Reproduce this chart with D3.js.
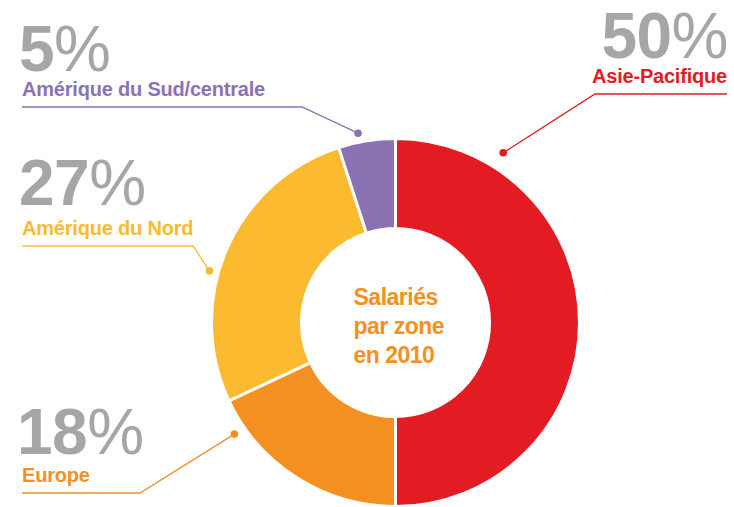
<!DOCTYPE html>
<html>
<head>
<meta charset="utf-8">
<script src="https://cdn.jsdelivr.net/npm/d3@7"></script>
<style>
  body { margin: 0; background: #fff; }
  text { font-family: "Liberation Sans", Arial, Helvetica, sans-serif; }
</style>
</head>
<body>
<svg id="chart" width="734" height="507"></svg>
<script>
// Data
const zones = ['Asie-Pacifique', 'Europe', 'Amérique du Nord', 'Amérique du Sud/centrale'];
const shares = [50, 18, 27, 5];
const zoneColors = ['#e31b23', '#f39021', '#fbba30', '#8b72b3'];
const centerLines = ['Salariés', 'par zone', 'en 2010'];

// Layout of the callouts (not data): label anchor, underline ends, dot angle/radius
const callouts = [
  { x: 728, y: 58, anchor: 'end', lineFrom: 727, lineTo: 595, lineY: 94, dotAngle: 32.4, dotR: 201 },
  { x: 17, y: 454, anchor: 'start', lineFrom: 22, lineTo: 140, lineY: 493, dotAngle: 235.3, dotR: 196 },
  { x: 19, y: 205, anchor: 'start', lineFrom: 22, lineTo: 193, lineY: 246, dotAngle: 285.5, dotR: 193 },
  { x: 19, y: 71, anchor: 'start', lineFrom: 22, lineTo: 302, lineY: 107, dotAngle: 348.8, dotR: 193 }
];

const cx = 395.5, cy = 322.5;
const outerR = 184, innerR = 94;
const grey = '#a6a6a9';

const svg = d3.select('#chart');
const g = svg.append('g').attr('transform', `translate(${cx},${cy})`);

const pie = d3.pie().sort(null).value(d => d);
const arc = d3.arc().innerRadius(innerR).outerRadius(outerR);

g.selectAll('.slice')
  .data(pie(shares))
  .enter()
  .append('path')
    .attr('class', 'slice')
    .attr('d', arc)
    .attr('fill', (d, i) => zoneColors[i])
    .attr('stroke', '#fff')
    .attr('stroke-width', 3);

// centre title
g.append('text')
  .attr('fill', '#f39021')
  .attr('font-size', 23)
  .attr('font-weight', 'bold')
  .attr('letter-spacing', -0.5)
  .selectAll('tspan')
  .data(centerLines)
  .enter()
  .append('tspan')
    .attr('x', -42)
    .attr('y', (d, i) => -18 + i * 29)
    .text(d => d);

// callouts
zones.forEach((zone, i) => {
  const c = callouts[i];
  const col = zoneColors[i];
  const dot = d3.pointRadial(c.dotAngle * Math.PI / 180, c.dotR);
  const dx = cx + dot[0], dy = cy + dot[1];

  const big = svg.append('text')
    .attr('x', c.x)
    .attr('y', c.y)
    .attr('text-anchor', c.anchor)
    .attr('fill', grey)
    .attr('font-size', 64)
    .attr('letter-spacing', -0.5);
  big.append('tspan').attr('font-weight', 'bold').text(shares[i]);
  big.append('tspan').attr('font-weight', 'normal').text('%');

  svg.append('text')
    .attr('x', c.lineFrom)
    .attr('y', c.lineY - 11)
    .attr('text-anchor', c.anchor)
    .attr('fill', col)
    .attr('font-size', 20)
    .attr('font-weight', 'bold')
    .attr('letter-spacing', -0.2)
    .text(zone);

  svg.append('polyline')
    .attr('points', [[c.lineFrom, c.lineY], [c.lineTo, c.lineY], [dx, dy]].map(p => p.join(',')).join(' '))
    .attr('fill', 'none')
    .attr('stroke', col)
    .attr('stroke-width', 1.3);

  svg.append('circle')
    .attr('cx', dx)
    .attr('cy', dy)
    .attr('r', 3.8)
    .attr('fill', col);
});
</script>
</body>
</html>
